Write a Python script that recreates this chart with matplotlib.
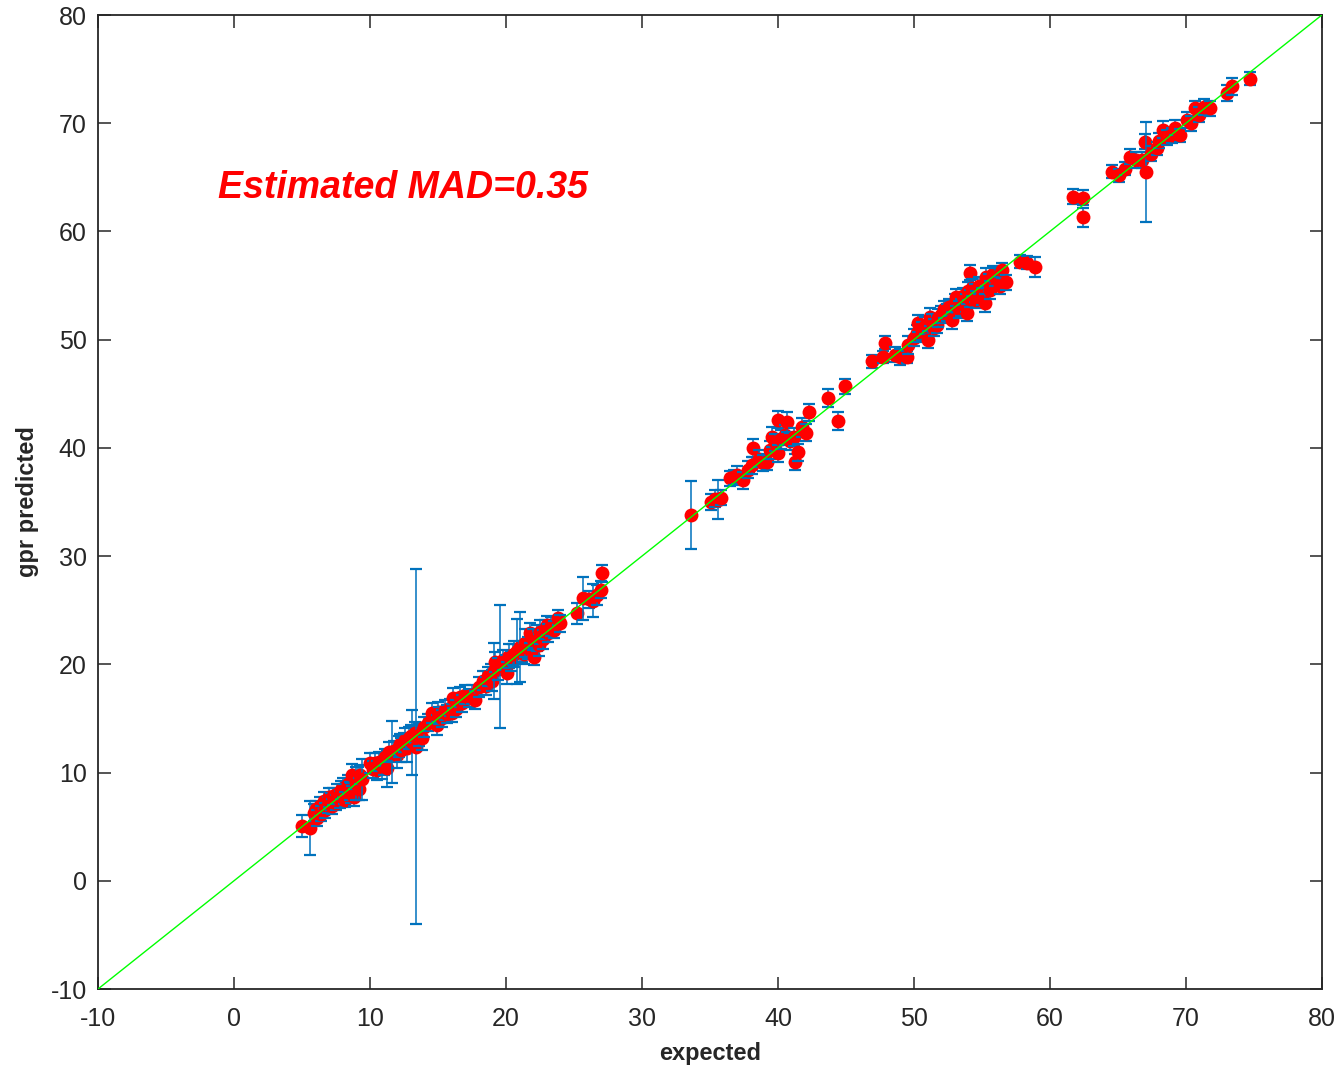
import numpy as np
import matplotlib
matplotlib.use("Agg")
import matplotlib.pyplot as plt

# ==========================================
# 0. 样式参数
# ==========================================
plt.rcParams['font.family'] = ['Liberation Sans', 'DejaVu Sans']
plt.rcParams['axes.unicode_minus'] = False
AX_COLOR = '#262626'
BAR_COLOR = '#0072BD'
DOT_COLOR = '#FF0000'
LINE_COLOR = '#00FF00'

# ==========================================
# 1. 数据 (从图中估读: expected, gpr predicted, 误差半宽)
# ==========================================
xa = [5.0, 5.6, 5.9, 6.0, 6.1, 6.3, 6.4, 6.6, 6.7, 6.9,
      7.0, 7.1, 7.2, 7.3, 7.5, 7.6, 7.8, 7.9, 8.0, 8.1,
      8.2, 8.4, 8.5, 8.6, 8.7, 8.8, 9.0, 9.1, 9.2, 9.3,
      9.4, 10.0, 10.2, 10.4, 10.5, 10.7, 10.9, 11.0, 11.1, 11.25,
      11.4, 11.6, 11.8, 12.0, 12.1, 12.2, 12.3, 12.5, 12.6, 12.7,
      12.9, 13.0, 13.1, 13.3, 13.4, 13.6, 13.8, 14.0]
ya = [5.05, 4.9, 6.3, 6.6, 5.8, 6.9, 6.2, 7.4, 6.5, 7.0,
      7.7, 7.3, 6.9, 7.8, 7.2, 8.0, 7.5, 8.4, 8.6, 8.0,
      7.5, 8.9, 8.3, 8.1, 9.8, 7.7, 9.0, 9.6, 8.5, 9.8,
      9.4, 10.9, 10.3, 10.9, 10.2, 11.0, 10.6, 10.8, 11.4, 10.4,
      11.9, 11.9, 12.0, 11.6, 12.4, 12.6, 12.1, 12.8, 13.0, 12.3,
      13.2, 13.4, 12.8, 13.7, 12.4, 13.5, 13.2, 14.2]
ea = [1.0, 2.5, 0.8, 0.8, 0.7, 0.8, 0.7, 0.8, 0.7, 0.7,
      0.9, 0.8, 0.7, 0.8, 0.7, 0.9, 0.8, 0.8, 0.9, 0.9,
      0.7, 0.9, 0.8, 0.9, 1.0, 0.8, 1.5, 0.9, 1.0, 0.9,
      1.9, 0.9, 0.8, 0.9, 0.9, 0.9, 1.2, 1.0, 0.8, 1.7,
      0.9, 2.9, 0.9, 1.2, 1.0, 1.0, 1.1, 0.9, 1.1, 1.3,
      1.0, 1.0, 3.0, 1.0, 16.4, 1.0, 1.1, 0.9]

xb = [14.3, 14.6, 14.9, 15.0, 15.1, 15.3, 15.5, 15.7, 15.9, 16.0,
      16.1, 16.3, 16.6, 16.8, 17.0, 17.3, 17.5, 17.7, 18.0, 18.3,
      18.5, 18.7, 18.9, 19.0, 19.1, 19.2, 19.4, 19.6, 19.8, 20.0,
      20.1, 20.2, 20.4, 20.5, 20.6, 20.8, 21.0, 21.2, 21.3, 21.4,
      21.6, 21.8, 22.0, 22.1, 22.3, 22.4, 22.5, 22.7, 22.9, 23.0,
      23.1, 23.3, 23.5, 23.8, 24.0]
yb = [14.6, 15.5, 14.4, 15.6, 15.3, 15.0, 15.8, 15.4, 16.0, 15.5,
      16.9, 15.9, 17.0, 16.4, 17.2, 16.9, 17.2, 16.7, 17.9, 18.5,
      18.0, 18.9, 19.0, 18.5, 19.4, 20.2, 19.6, 19.8, 20.4, 20.0,
      19.2, 20.8, 20.3, 20.9, 21.0, 21.2, 21.6, 21.2, 21.0, 22.0,
      21.5, 22.9, 22.3, 20.7, 22.4, 21.8, 23.0, 22.3, 23.2, 23.6,
      22.9, 23.5, 23.2, 24.3, 23.8]
eb = [0.8, 0.9, 0.9, 0.9, 0.8, 0.8, 0.9, 0.8, 0.8, 0.8,
      0.9, 0.8, 0.9, 0.8, 0.9, 0.8, 0.9, 0.8, 0.9, 0.9,
      0.8, 0.9, 1.0, 1.0, 2.6, 0.9, 1.0, 5.7, 0.9, 0.9,
      1.0, 1.1, 0.9, 1.0, 1.2, 3.0, 3.2, 1.0, 1.0, 1.3,
      1.0, 0.9, 1.0, 0.8, 1.2, 1.0, 1.1, 0.9, 0.9, 0.9,
      0.8, 0.9, 0.8, 0.7, 0.8]

xc = [25.2, 25.7, 26.1, 26.4, 26.7, 27.0, 27.1]
yc = [24.7, 26.1, 26.0, 25.9, 26.4, 26.9, 28.4]
ec = [1.0, 2.0, 0.8, 1.5, 0.9, 0.8, 0.8]

xd = [33.6, 35.1, 35.4, 35.6, 35.8, 36.5, 36.8, 37.0, 37.4, 37.8,
      38.1, 38.2, 38.6, 38.9, 39.2, 39.4, 39.6, 39.8, 40.0, 40.0,
      40.2, 40.5, 40.7, 40.9, 41.2, 41.25, 41.5, 41.8, 42.1, 42.3,
      43.7, 44.4, 44.9]
yd = [33.8, 35.0, 35.3, 35.2, 35.4, 37.2, 37.3, 37.5, 37.0, 38.0,
      38.4, 40.0, 39.0, 38.6, 38.7, 39.8, 41.0, 40.5, 42.6, 39.5,
      40.8, 41.2, 42.4, 40.6, 41.0, 38.7, 39.6, 41.9, 41.4, 43.3,
      44.6, 42.5, 45.7]
ed = [3.1, 0.7, 0.8, 1.8, 0.7, 0.7, 0.7, 0.8, 0.8, 0.8,
      0.8, 0.8, 0.8, 0.7, 0.7, 0.8, 0.9, 0.8, 0.8, 0.8,
      0.9, 0.9, 0.9, 0.8, 0.8, 0.7, 0.8, 0.9, 0.8, 0.8,
      0.8, 0.8, 0.7]

xe = [46.9, 47.7, 47.9, 48.6, 49.0, 49.5, 49.6, 50.0, 50.2, 50.3,
      50.6, 50.8, 51.0, 51.2, 51.3, 51.5, 51.7, 51.8, 52.0, 52.2,
      52.4, 52.6, 52.8, 53.0, 53.1, 53.3, 53.5, 53.6, 53.8, 53.9,
      54.0, 54.1, 54.1, 54.3, 54.5, 54.6, 54.8, 55.0, 55.2, 55.3,
      55.5, 55.6, 55.8, 56.0, 56.3, 56.5, 56.8, 57.8, 58.3, 58.9]
ye = [48.0, 48.4, 49.7, 48.6, 48.4, 48.4, 49.5, 50.2, 50.6, 51.5,
      50.8, 51.3, 50.0, 52.1, 51.6, 51.1, 51.4, 52.0, 52.3, 52.8,
      52.5, 53.0, 51.8, 53.4, 53.9, 52.8, 53.0, 54.0, 53.4, 52.5,
      54.5, 53.8, 56.2, 54.8, 54.3, 53.7, 55.0, 54.0, 53.4, 55.8,
      55.3, 54.6, 56.1, 55.8, 55.0, 56.4, 55.3, 57.2, 57.1, 56.7]
ee = [0.6, 0.6, 0.6, 0.7, 0.7, 0.6, 0.8, 0.8, 0.8, 0.8,
      0.8, 0.8, 0.8, 0.8, 0.8, 0.8, 0.8, 0.8, 0.8, 0.8,
      0.8, 0.8, 0.8, 0.8, 0.8, 0.8, 0.8, 0.8, 0.8, 0.8,
      0.8, 0.8, 0.7, 0.8, 0.8, 0.8, 0.8, 0.8, 0.8, 0.8,
      0.8, 0.8, 0.7, 0.8, 0.8, 0.7, 0.7, 0.6, 0.6, 0.9]

xf = [61.7, 62.4, 62.4, 64.6, 65.1, 65.5, 65.9, 66.3, 66.8, 67.0,
      67.1, 67.4, 67.9, 68.0, 68.3, 68.6, 69.0, 69.2, 69.6, 70.1,
      70.4, 70.7, 71.0, 71.3, 71.8, 73.0, 73.4, 74.7]
yf = [63.2, 63.1, 61.3, 65.5, 65.2, 65.8, 66.9, 66.6, 66.6, 68.3,
      65.5, 67.2, 67.7, 68.4, 69.4, 68.7, 68.9, 69.6, 68.9, 70.3,
      70.0, 71.4, 70.8, 71.5, 71.4, 72.8, 73.4, 74.1]
ef = [0.7, 0.7, 0.9, 0.6, 0.6, 0.6, 0.7, 0.7, 0.7, 0.7,
      4.6, 0.7, 0.6, 0.7, 0.8, 0.7, 0.7, 0.7, 0.6, 0.7,
      0.7, 0.7, 0.7, 0.7, 0.7, 0.7, 0.8, 0.6]

expected = np.array(xa + xb + xc + xd + xe + xf)
predicted = np.array(ya + yb + yc + yd + ye + yf)
err = np.array(ea + eb + ec + ed + ee + ef)

MAD_TEXT = 'Estimated MAD=0.35'

# ==========================================
# 2. 绘图
# ==========================================
fig = plt.figure(figsize=(13.42, 10.72), dpi=100, facecolor='white')
ax = fig.add_axes([0.073, 0.0774, 0.912, 0.9086])

# 每个点依次画误差棒和红点 (后画的误差棒会压住前面的点)
for i in range(len(expected)):
    ax.errorbar(expected[i], predicted[i], yerr=err[i], fmt='none', ecolor=BAR_COLOR,
                elinewidth=1.1, capsize=4, capthick=1.6, zorder=2 + 2 * i)
    ax.plot(expected[i], predicted[i], 'o', color=DOT_COLOR, markersize=10,
            markeredgewidth=0, zorder=3 + 2 * i)

ax.plot([-10, 80], [-10, 80], color=LINE_COLOR, lw=1.0, zorder=10000)

ax.text(-1.2, 64.0, MAD_TEXT, color=DOT_COLOR, fontsize=27, fontweight='bold',
        fontstyle='italic', va='center', ha='left')

ax.set_xlim(-10, 80)
ax.set_ylim(-10, 80)
ax.set_xticks(np.arange(-10, 81, 10))
ax.set_yticks(np.arange(-10, 81, 10))
ax.tick_params(direction='in', length=9, width=1.1, top=True, right=True,
               labelsize=18, colors=AX_COLOR)
ax.tick_params(axis='x', pad=13)
ax.tick_params(axis='y', pad=8)
for s in ax.spines.values():
    s.set_color(AX_COLOR)
    s.set_linewidth(1.3)

ax.set_xlabel('expected', fontsize=17, fontweight='bold', color=AX_COLOR, labelpad=8)
ax.set_ylabel('gpr predicted', fontsize=17, fontweight='bold', color=AX_COLOR, labelpad=8)

plt.savefig('out.png', dpi=100)
plt.close()
